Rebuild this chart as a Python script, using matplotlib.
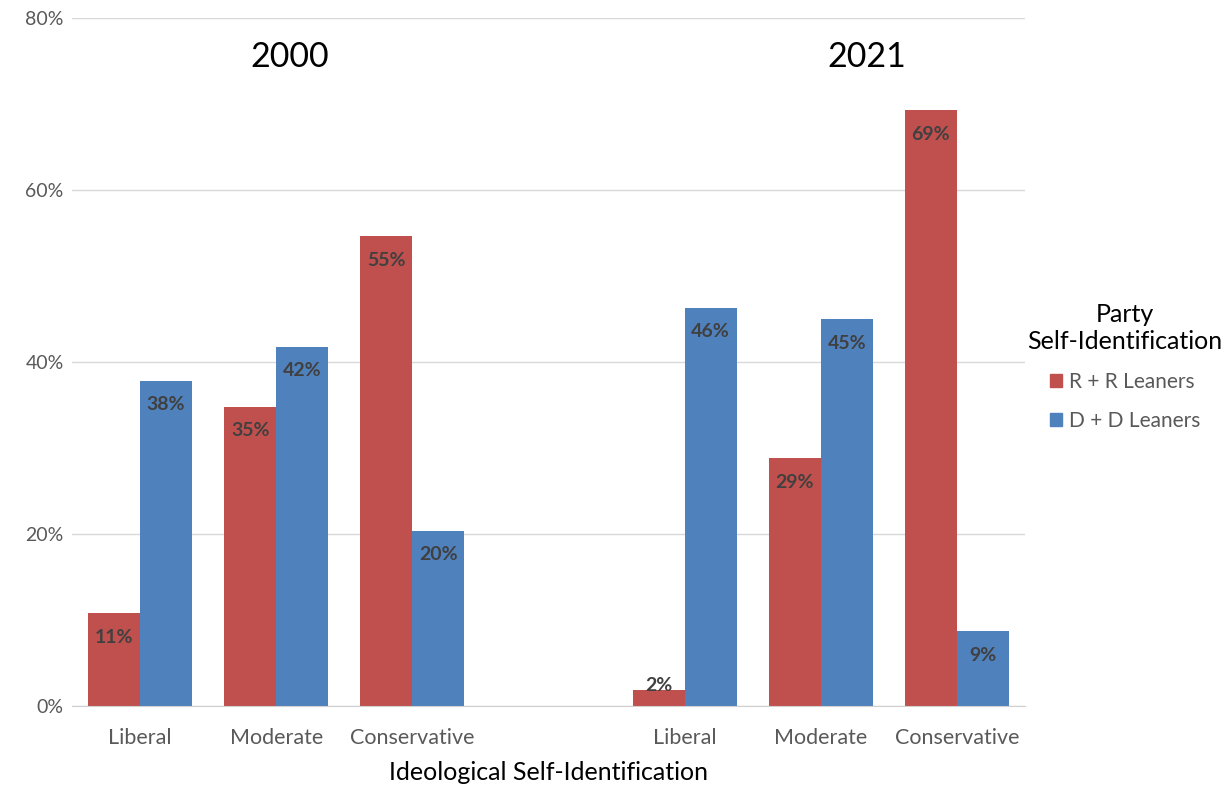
import numpy as np
import matplotlib.pyplot as plt
from matplotlib.patches import Patch

plt.rcParams['font.family'] = ['Lato', 'DejaVu Sans']

categories = ["Liberal", "Moderate", "Conservative", "", "Liberal", "Moderate", "Conservative"]
years = ["2000", "2021"]
r_values = [10.8, 34.8, 54.6, np.nan, 1.9, 28.8, 69.3]
d_values = [37.8, 41.8, 20.4, np.nan, 46.3, 45.0, 8.7]
r_labels = ["11%", "35%", "55%", "", "2%", "29%", "69%"]
d_labels = ["38%", "42%", "20%", "", "46%", "45%", "9%"]

red = "#C0504D"
blue = "#4F81BD"
grey_text = "#595959"

fig = plt.figure(figsize=(12.31, 7.88), dpi=100)
ax = fig.add_axes([72 / 1231, 82 / 788, 953 / 1231, 688 / 788])

x = np.arange(len(categories))
w = 0.382
ax.bar(x - w / 2, r_values, w, color=red, zorder=3)
ax.bar(x + w / 2, d_values, w, color=blue, zorder=3)


def label_y(v):
    # inside end, but pushed up when the bar is too short
    return max(v - 2.8, 2.4)


for i in range(len(categories)):
    if r_labels[i]:
        ax.text(x[i] - w / 2, label_y(r_values[i]), r_labels[i], ha="center", va="center",
                fontsize=14, fontweight="bold", color="#404040", zorder=4)
    if d_labels[i]:
        ax.text(x[i] + w / 2, label_y(d_values[i]), d_labels[i], ha="center", va="center",
                fontsize=14, fontweight="bold", color="#404040", zorder=4)

ax.set_xlim(-0.5, 6.5)
ax.set_ylim(0, 80)
ax.set_yticks([0, 20, 40, 60, 80])
ax.set_yticklabels(["0%", "20%", "40%", "60%", "80%"])
ax.set_xticks(x)
ax.set_xticklabels(categories)
ax.tick_params(axis="both", length=0, colors=grey_text)
ax.tick_params(axis="x", pad=16, labelsize=15.5)
ax.tick_params(axis="y", pad=6, labelsize=14)
ax.grid(axis="y", color="#d9d9d9", linewidth=1, zorder=0)
for s in ["top", "right", "left"]:
    ax.spines[s].set_visible(False)
ax.spines["bottom"].set_color("#d0d0d0")
ax.spines["bottom"].set_zorder(5)

ax.text(1.10, 75.5, years[0], ha="center", va="center", fontsize=24.5, color="black")
ax.text(5.34, 75.5, years[1], ha="center", va="center", fontsize=24.5, color="black")

ax.set_xlabel("Ideological Self-Identification", fontsize=18, color="black", labelpad=9)

handles = [Patch(color=red, label="R + R Leaners"), Patch(color=blue, label="D + D Leaners")]
leg = fig.legend(handles=handles, title="Party\nSelf-Identification", loc="center",
                 bbox_to_anchor=(1125 / 1231, 1 - 367 / 788), frameon=False, fontsize=15,
                 title_fontsize=18, handlelength=0.6, handleheight=0.6, labelspacing=0.9,
                 handletextpad=0.3)
leg.get_title().set_multialignment("center")
for t in leg.get_texts():
    t.set_color(grey_text)

fig.savefig("out.png", dpi=100)
